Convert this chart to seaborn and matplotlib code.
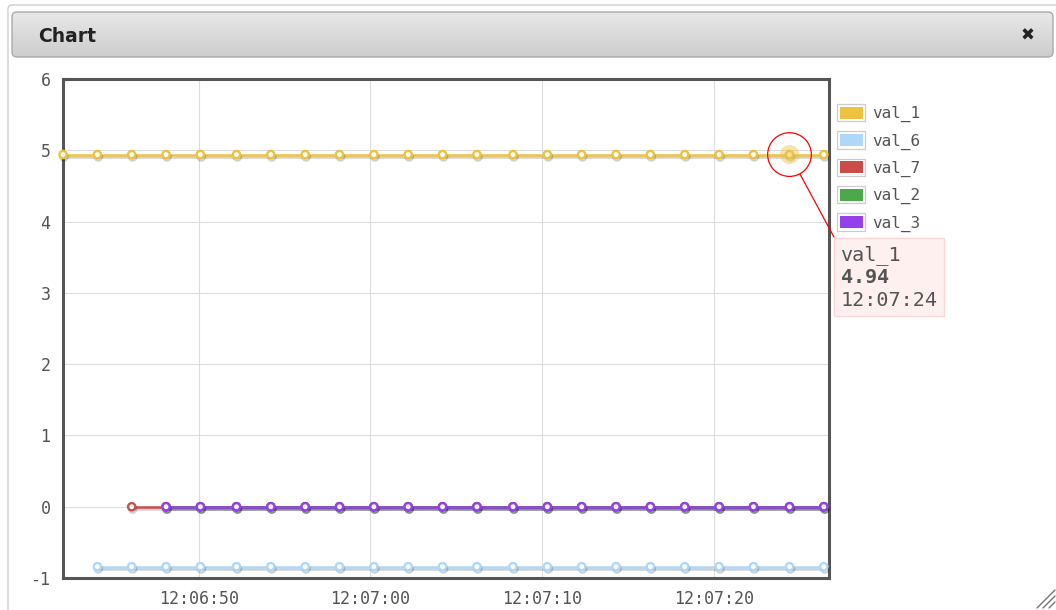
import numpy as np
import pandas as pd
import matplotlib
matplotlib.use("Agg")
import matplotlib.pyplot as plt
import matplotlib.dates as mdates
import matplotlib.patheffects as pe
from matplotlib.patches import Patch, Rectangle, FancyBboxPatch
from matplotlib.legend_handler import HandlerBase
from matplotlib.lines import Line2D
from matplotlib.transforms import IdentityTransform
import seaborn as sns

# ---- data -------------------------------------------------------------
sample_times = [
    "12:06:42.1", "12:06:44.1", "12:06:46.1", "12:06:48.1", "12:06:50.1",
    "12:06:52.2", "12:06:54.2", "12:06:56.2", "12:06:58.2", "12:07:00.2",
    "12:07:02.2", "12:07:04.2", "12:07:06.2", "12:07:08.3", "12:07:10.3",
    "12:07:12.3", "12:07:14.3", "12:07:16.3", "12:07:18.3", "12:07:20.3",
    "12:07:22.3", "12:07:24.4", "12:07:26.4",
]
series_names = ["val_1", "val_6", "val_7", "val_2", "val_3"]
series_colors = ["#edc240", "#afd8f8", "#cb4b4b", "#4da74d", "#9440ed"]

val_1 = [4.94] * 23
val_6 = [None] + [-0.84] * 22
val_7 = [None, None] + [0.0] * 21
val_2 = [None, None, None] + [0.0] * 20
val_3 = [None, None, None] + [0.0] * 20

y_ticks = [-1, 0, 1, 2, 3, 4, 5, 6]
hover_series = "val_1"
hover_index = 21
x_end = "12:07:26.7"

# ---- tidy frame -------------------------------------------------------
stamp = pd.to_datetime(["2000-01-01 " + t for t in sample_times])
all_values = [val_1, val_6, val_7, val_2, val_3]
frames = []
for name, vals in zip(series_names, all_values):
    frames.append(pd.DataFrame({"time": stamp, "value": vals, "series": name}))
df = pd.concat(frames, ignore_index=True).dropna()

# ---- figure -----------------------------------------------------------
sns.set_style("white")
plt.rcParams["font.family"] = ["DejaVu Sans Mono", "DejaVu Sans"]
plt.rcParams["axes.unicode_minus"] = False
plt.rcParams["mathtext.fontset"] = "custom"
plt.rcParams["mathtext.rm"] = "DejaVu Sans Mono"
plt.rcParams["mathtext.bf"] = "DejaVu Sans Mono:bold"

W, H = 1056, 610
fig = plt.figure(figsize=(W / 100, H / 100), dpi=100)
fig.patch.set_facecolor("white")
ident = IdentityTransform()

# dialog frame
outer = FancyBboxPatch((8, -30), W + 40, (H - 5) + 30,
                       boxstyle="round,pad=0,rounding_size=4",
                       transform=ident, facecolor="white",
                       edgecolor="#cfcfcf", lw=1, zorder=-10)
fig.add_artist(outer)

# title bar with vertical gradient
tb_x, tb_y, tb_w, tb_h = 12, H - 57, 1041, 45
gax = fig.add_axes([tb_x / W, tb_y / H, tb_w / W, tb_h / H], zorder=-5)
gax.set_axis_off()
grad = np.linspace(0, 1, 64).reshape(-1, 1)
cmap = matplotlib.colors.LinearSegmentedColormap.from_list("bar", ["#e8e8e8", "#cdcdcd"])
im = gax.imshow(grad, cmap=cmap, aspect="auto", extent=[0, 1, 0, 1], origin="upper")
bar_shape = FancyBboxPatch((tb_x, tb_y), tb_w, tb_h,
                           boxstyle="round,pad=0,rounding_size=5", transform=ident)
im.set_clip_path(bar_shape)
bar_edge = FancyBboxPatch((tb_x, tb_y), tb_w, tb_h,
                          boxstyle="round,pad=0,rounding_size=5", transform=ident,
                          facecolor="none", edgecolor="#aaaaaa", lw=1, zorder=5)
fig.add_artist(bar_edge)
fig.text(38 / W, 1 - 36 / H, "Chart", fontsize=13.5, fontweight="bold",
         family="DejaVu Sans", color="#222222", ha="left", va="center")
fig.text(1028 / W, 1 - 36 / H, "\u2716", fontsize=12, family="DejaVu Sans",
         color="#222222", ha="center", va="center")

# resize grip
for (x0, y0, x1, y1) in [(1055, 590, 1037, 608), (1055, 596, 1043, 608), (1055, 602, 1049, 608)]:
    fig.add_artist(Line2D([x0, x1], [H - y0, H - y1], transform=ident,
                          color="#777777", lw=1))

# ---- plot area --------------------------------------------------------
ax = fig.add_axes([63 / W, 1 - 578 / H, (829 - 63) / W, (578 - 79) / H])
sns.lineplot(data=df, x="time", y="value", hue="series", hue_order=series_names,
             palette=series_colors, marker="o", linewidth=1.8, markersize=5.2,
             legend=False, ax=ax, estimator=None)

shadow = [pe.SimpleLineShadow(offset=(0.7, -1.7), shadow_color="black", alpha=0.18),
          pe.Normal()]
for line, col in zip(ax.lines, series_colors):
    line.set_markerfacecolor("white")
    line.set_markeredgecolor(col)
    line.set_markeredgewidth(1.7)
    line.set_clip_on(False)
    line.set_zorder(3)
    line.set_path_effects(shadow)

ax.set_ylim(y_ticks[0], y_ticks[-1])
ax.set_yticks(y_ticks)
ax.set_xlim(stamp[0], pd.Timestamp("2000-01-01 " + x_end))
ax.xaxis.set_major_locator(mdates.SecondLocator(bysecond=range(0, 60, 10)))
ax.xaxis.set_major_formatter(mdates.DateFormatter("%H:%M:%S"))
ax.set_xlabel("")
ax.set_ylabel("")
ax.grid(True, color="#dddddd", lw=0.8)
ax.tick_params(axis="both", length=0, labelsize=12, colors="#545454")
ax.tick_params(axis="y", pad=9)
ax.tick_params(axis="x", pad=9)
for sp in ax.spines.values():
    sp.set_visible(True)
    sp.set_color("#555555")
    sp.set_linewidth(2.2)

# hovered point highlight + tooltip
hi = series_names.index(hover_series)
hx = stamp[hover_index]
hy = all_values[hi][hover_index]
ax.scatter([hx], [hy], s=190, color=series_colors[hi], alpha=0.45,
           edgecolor="none", zorder=4, clip_on=False)
ax.scatter([hx], [hy], s=990, facecolor="none", edgecolor="red",
           lw=0.9, zorder=5, clip_on=False)

tip_text = f"{hover_series}\n$\\mathbf{{{hy:.2f}}}$\n{hx.strftime('%H:%M:%S')}"
ax.annotate(tip_text, xy=(hx, hy),
            xytext=(51, -90), textcoords="offset pixels", ha="left", va="top",
            fontsize=14.5, color="#545454", linespacing=1.25,
            bbox=dict(boxstyle="square,pad=0.3", facecolor="#fff0f0",
                      edgecolor="#fbd5d5", lw=1),
            arrowprops=dict(arrowstyle="-", color="red", lw=0.9, shrinkA=0,
                            shrinkB=16, relpos=(0, 0.93)),
            annotation_clip=False, zorder=6)


# legend with boxed colour swatches
class SwatchHandler(HandlerBase):
    def create_artists(self, legend, orig_handle, xdescent, ydescent,
                       width, height, fontsize, trans):
        x0, y0 = -xdescent, -ydescent
        box = Rectangle((x0, y0), width, height, facecolor="white",
                        edgecolor="#cccccc", lw=0.9, transform=trans)
        inset = 0.16 * height
        fill = Rectangle((x0 + inset, y0 + inset), width - 2 * inset,
                         height - 2 * inset, facecolor=orig_handle.get_facecolor(),
                         edgecolor="none", transform=trans)
        return [box, fill]


handles = [Patch(facecolor=c) for c in series_colors]
leg = ax.legend(handles, series_names, handler_map={Patch: SwatchHandler()},
                loc="upper left", bbox_to_anchor=(1.011, 0.950), frameon=False,
                fontsize=11.5, handlelength=1.75, handleheight=1.3,
                labelspacing=0.57, handletextpad=0.4, borderpad=0,
                borderaxespad=0)
for t in leg.get_texts():
    t.set_color("#545454")

fig.savefig("out.png", dpi=100)
